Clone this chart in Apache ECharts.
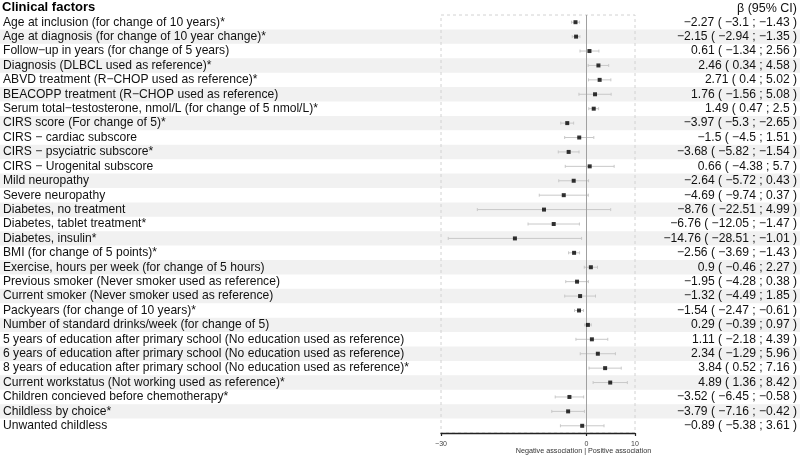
<!DOCTYPE html>
<html>
<head>
<meta charset="utf-8">
<script src="https://cdn.jsdelivr.net/npm/echarts@6/dist/echarts.min.js"></script>
<style>
    body { margin: 0; background: #fff; }
    #main { width: 800px; height: 458px; }
</style>
</head>
<body>
<div id="main"></div>
<script>
let log = console.log.bind(console)

// 变量名称
const factors = [
    'Age at inclusion (for change of 10 years)*',
    'Age at diagnosis (for change of 10 year change)*',
    'Follow\u2212up in years (for change of 5 years)',
    'Diagnosis (DLBCL used as reference)*',
    'ABVD treatment (R\u2212CHOP used as reference)*',
    'BEACOPP treatment (R\u2212CHOP used as reference)',
    'Serum total\u2212testosterone, nmol/L (for change of 5 nmol/L)*',
    'CIRS score (For change of 5)*',
    'CIRS \u2212 cardiac subscore',
    'CIRS \u2212 psyciatric subscore*',
    'CIRS \u2212 Urogenital subscore',
    'Mild neuropathy',
    'Severe neuropathy',
    'Diabetes, no treatment',
    'Diabetes, tablet treatment*',
    'Diabetes, insulin*',
    'BMI (for change of 5 points)*',
    'Exercise, hours per week (for change of 5 hours)',
    'Previous smoker (Never smoker used as reference)',
    'Current smoker (Never smoker used as reference)',
    'Packyears (for change of 10 years)*',
    'Number of standard drinks/week (for change of 5)',
    '5 years of education after primary school (No education used as reference)',
    '6 years of education after primary school (No education used as reference)',
    '8 years of education after primary school (No education used as reference)*',
    'Current workstatus (Not working used as reference)*',
    'Children concieved before chemotherapy*',
    'Childless by choice*',
    'Unwanted childless',
]

// beta 和 95% CI
const beta = [-2.27, -2.15, 0.61, 2.46, 2.71, 1.76, 1.49, -3.97, -1.5, -3.68, 0.66, -2.64, -4.69, -8.76, -6.76,
    -14.76, -2.56, 0.9, -1.95, -1.32, -1.54, 0.29, 1.11, 2.34, 3.84, 4.89, -3.52, -3.79, -0.89]
const lower = [-3.1, -2.94, -1.34, 0.34, 0.4, -1.56, 0.47, -5.3, -4.5, -5.82, -4.38, -5.72, -9.74, -22.51, -12.05,
    -28.51, -3.69, -0.46, -4.28, -4.49, -2.47, -0.39, -2.18, -1.29, 0.52, 1.36, -6.45, -7.16, -5.38]
const upper = [-1.43, -1.35, 2.56, 4.58, 5.02, 5.08, 2.5, -2.65, 1.51, -1.54, 5.7, 0.43, 0.37, 4.99, -1.47,
    -1.01, -1.43, 2.27, 0.38, 1.85, -0.61, 0.97, 4.39, 5.96, 7.16, 8.42, -0.58, -0.42, 3.61]

// x 轴刻度
const xTicks = [-30, 0, 10]

let num = function(v) {
    return String(v).replace('-', '\u2212')
}

let ciText = factors.map(function(f, i) {
    return `${num(beta[i])} ( ${num(lower[i])} ; ${num(upper[i])} )`
})

// 灰色条纹, 偶数行
let stripes = []
for (let i = 1; i < factors.length; i += 2) {
    stripes.push([0, i])
}

let font = 'Liberation Sans, Arial, Helvetica, sans-serif'

let myChart = echarts.init(document.getElementById('main'))

let option = {
    animation: false,
    textStyle: { fontFamily: font },
    grid: {
        left: 440,
        width: 195,
        top: 15,
        height: 418,
        show: true,
        borderColor: '#d2d2d2',
        borderWidth: 1,
        borderType: [3, 3],
    },
    graphic: [
        {
            id: 'head-left',
            type: 'text',
            left: 2,
            top: 1,
            style: { text: 'Clinical factors', fontSize: 13, fontWeight: 'bold', fontFamily: font, fill: '#000' },
        },
        {
            id: 'head-right',
            type: 'text',
            right: 3,
            top: 2,
            style: { text: '\u03b2 (95% CI)', fontSize: 12.5, fontFamily: font, fill: '#111' },
        },
    ],
    xAxis: {
        type: 'value',
        min: -30,
        max: 10,
        interval: 10,
        splitLine: { show: false },
        axisLine: { show: true, lineStyle: { color: '#222', width: 1.3 } },
        axisTick: { show: true, customValues: xTicks, length: 3, lineStyle: { color: '#222', width: 1.2 } },
        axisLabel: { customValues: xTicks, fontSize: 7, color: '#444', margin: 8,
            formatter: function(v) { return num(v) } },
    },
    yAxis: [
        {
            type: 'category',
            inverse: true,
            data: factors,
            axisLine: { show: false },
            axisTick: { show: false },
            axisLabel: { interval: 0, align: 'left', margin: 438, fontSize: 12.1, color: '#111' },
        },
        {
            type: 'category',
            inverse: true,
            position: 'right',
            data: ciText,
            axisLine: { show: false },
            axisTick: { show: false },
            axisLabel: { interval: 0, align: 'right', margin: 162, fontSize: 12.1, color: '#111' },
        },
    ],
    series: [
        {
            // 背景条纹
            type: 'custom',
            z: -1,
            silent: true,
            clip: false,
            data: stripes,
            renderItem: function(params, api) {
                let p = api.coord([0, api.value(1)])
                let h = api.size([0, 1])[1]
                return {
                    type: 'rect',
                    shape: { x: 0, y: p[1] - h / 2, width: 800, height: h },
                    style: { fill: '#f1f1f1' },
                }
            },
        },
        {
            // 置信区间
            type: 'custom',
            silent: true,
            data: factors.map(function(f, i) { return [lower[i], upper[i], i] }),
            encode: { x: [0, 1], y: 2 },
            renderItem: function(params, api) {
                let a = api.coord([api.value(0), api.value(2)])
                let b = api.coord([api.value(1), api.value(2)])
                let st = { stroke: '#c8c8c8', lineWidth: 1 }
                return {
                    type: 'group',
                    children: [
                        { type: 'line', shape: { x1: a[0], y1: a[1], x2: b[0], y2: b[1] }, style: st },
                        { type: 'line', shape: { x1: a[0], y1: a[1] - 1.5, x2: a[0], y2: a[1] + 1.5 }, style: st },
                        { type: 'line', shape: { x1: b[0], y1: b[1] - 1.5, x2: b[0], y2: b[1] + 1.5 }, style: st },
                    ],
                }
            },
        },
        {
            type: 'scatter',
            symbol: 'rect',
            symbolSize: 4,
            itemStyle: { color: '#000' },
            silent: true,
            data: factors.map(function(f, i) { return [beta[i], i] }),
            markLine: {
                silent: true,
                symbol: 'none',
                label: { show: false },
                lineStyle: { color: '#a0a0a0', type: 'solid', width: 1 },
                data: [{ xAxis: 0 }],
            },
            z: 5,
        },
    ],
}

myChart.setOption(option)

// 坐标轴说明, 放在 0 的位置
let x0 = myChart.convertToPixel({ xAxisIndex: 0 }, 0)
log(x0)
myChart.setOption({
    graphic: [
        {
            id: 'axis-note',
            type: 'text',
            x: x0 - 3,
            y: 448,
            style: {
                text: 'Negative association | Positive association',
                fontSize: 7.2,
                fontFamily: font,
                fill: '#333',
                align: 'center',
            },
        },
    ],
})
</script>
</body>
</html>
